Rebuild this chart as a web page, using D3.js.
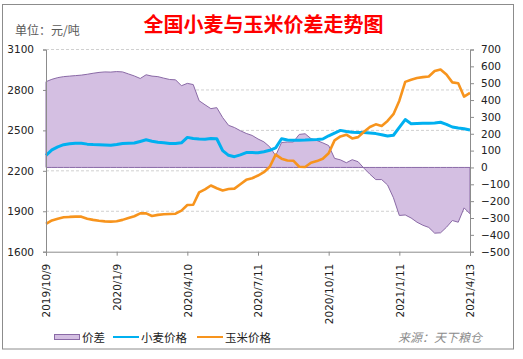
<!DOCTYPE html>
<html><head><meta charset="utf-8">
<script src="https://cdn.jsdelivr.net/npm/d3@7"></script>
<style>body{margin:0;background:#fff;}svg{display:block;}</style>
</head><body>
<script>
const tickLabels = ["2019/10/9","2020/1/9","2020/4/10","2020/7/11","2020/10/11","2021/1/11","2021/4/13"];
const leftTicks = [1600,1900,2200,2500,2800,3100];
const rightTicks = [-500,-400,-300,-200,-100,0,100,200,300,400,500,600,700];
const wheat = [2315,2355,2378,2394,2400,2405,2405,2398,2395,2394,2392,2389,2395,2403,2405,2406,2418,2430,2420,2412,2408,2402,2402,2408,2448,2440,2436,2434,2440,2438,2350,2315,2305,2318,2335,2335,2334,2342,2352,2370,2438,2428,2426,2426,2428,2431,2432,2436,2460,2480,2500,2492,2486,2484,2484,2480,2476,2468,2458,2464,2522,2580,2550,2551,2552,2553,2555,2560,2545,2525,2517,2512,2503];
const corn = [1806,1832,1845,1855,1858,1860,1860,1845,1836,1830,1825,1823,1826,1836,1850,1863,1884,1884,1865,1873,1878,1880,1882,1905,1946,1948,2040,2062,2091,2071,2054,2065,2068,2100,2133,2145,2165,2190,2230,2320,2290,2277,2275,2230,2228,2260,2272,2290,2330,2426,2455,2468,2440,2450,2490,2525,2545,2533,2570,2620,2720,2860,2876,2888,2895,2900,2940,2952,2915,2856,2850,2750,2778];
const spread = [509,523,533,539,542,545,548,553,559,564,567,566,569,567,555,543,528,550,542,539,530,522,520,485,499,492,396,372,349,355,296,250,237,218,202,190,169,152,122,70,148,151,151,196,200,171,160,146,130,54,45,28,46,34,-5,-40,-72,-72,-104,-180,-285,-282,-300,-325,-343,-356,-390,-388,-355,-315,-325,-240,-275];
const tickIdx = [0,12,24,36,48,60,72];

const W=523,H=359;
const svg=d3.select("body").append("svg").attr("width",W).attr("height",H);
svg.append("rect").attr("x",2.5).attr("y",4.5).attr("width",511).attr("height",344.5)
  .attr("fill","#fff").attr("stroke","#8c8c8c").attr("stroke-width",1);

const x=d3.scaleLinear().domain([0,wheat.length-1]).range([46,470]);
const yL=d3.scaleLinear().domain([1600,3100]).range([251.7,49.5]);
const yR=d3.scaleLinear().domain([-500,700]).range([251.7,49.5]);

// gridlines
svg.append("g").selectAll("line").data(leftTicks.filter(d=>d>1600)).join("line")
  .attr("x1",46).attr("x2",470).attr("y1",d=>yL(d)).attr("y2",d=>yL(d))
  .attr("stroke","#d0d0d0").attr("stroke-dasharray","3,2").attr("stroke-width",1);

// spread area
const area=d3.area().x((d,i)=>x(i)).y0(yR(0)).y1(d=>yR(d));
svg.append("path").datum(spread).attr("d",area).attr("fill","#d4bfe2")
  .attr("stroke","#8a6aa6").attr("stroke-width",1);

const lineL=d3.line().x((d,i)=>x(i)).y(d=>yL(d));
svg.append("path").datum(wheat).attr("d",lineL).attr("fill","none")
  .attr("stroke","#00b0f0").attr("stroke-width",3).attr("stroke-linejoin","round");
svg.append("path").datum(corn).attr("d",lineL).attr("fill","none")
  .attr("stroke","#f7941d").attr("stroke-width",2.6).attr("stroke-linejoin","round");

// axes
const axL=svg.append("g").attr("transform","translate(46,0)")
  .call(d3.axisLeft(yL).tickValues(leftTicks).tickSize(3).tickFormat(d3.format("d")));
const axR=svg.append("g").attr("transform","translate(470,0)")
  .call(d3.axisRight(yR).tickValues(rightTicks).tickSize(4).tickFormat(d3.format("d")));
const axB=svg.append("g").attr("transform","translate(0,251.7)")
  .call(d3.axisBottom(x).tickValues(tickIdx).tickSize(4).tickFormat((d,i)=>tickLabels[i]));
[axL,axR,axB].forEach(a=>{
  a.select(".domain").attr("stroke","#8c8c8c");
  a.selectAll(".tick line").attr("stroke","#8c8c8c");
  a.selectAll("text").attr("font-family","DejaVu Sans, Verdana, sans-serif")
    .attr("font-size","10.5px").attr("fill","#222");
});
axL.selectAll("text").attr("x",-12);
axR.selectAll("text").attr("x",11);
axB.selectAll("text").attr("transform","rotate(-90)").attr("text-anchor","end")
  .attr("x",-12).attr("y",0).attr("dy","0.35em");

// title
svg.append("text").attr("x",263.5).attr("y",32).attr("text-anchor","middle")
  .attr("font-family","Noto Sans CJK SC").attr("font-weight","bold").attr("font-size","20px")
  .attr("fill","#ff0000").text("全国小麦与玉米价差走势图");
svg.append("text").attr("x",15).attr("y",35)
  .attr("font-family","Noto Sans CJK SC").attr("font-size","12px").attr("fill","#595959").text("单位：元/吨");

// legend
const lg=svg.append("g").attr("font-family","Noto Sans CJK SC").attr("font-size","11.5px").attr("fill","#222");
lg.append("rect").attr("x",54.5).attr("y",334.5).attr("width",25).attr("height",5)
  .attr("fill","#d4bfe2").attr("stroke","#8a6aa6");
lg.append("text").attr("x",82).attr("y",341.5).text("价差");
lg.append("line").attr("x1",113).attr("x2",139).attr("y1",337).attr("y2",337).attr("stroke","#00b0f0").attr("stroke-width",2);
lg.append("text").attr("x",141).attr("y",341.5).text("小麦价格");
lg.append("line").attr("x1",197).attr("x2",223).attr("y1",337).attr("y2",337).attr("stroke","#f7941d").attr("stroke-width",2);
lg.append("text").attr("x",225).attr("y",341.5).text("玉米价格");
svg.append("text").attr("x",398).attr("y",341.5).attr("font-family","Noto Sans CJK SC")
  .attr("font-size","12px").attr("font-style","italic").attr("fill","#8c8c8c").text("来源：天下粮仓");
</script>
</body></html>
